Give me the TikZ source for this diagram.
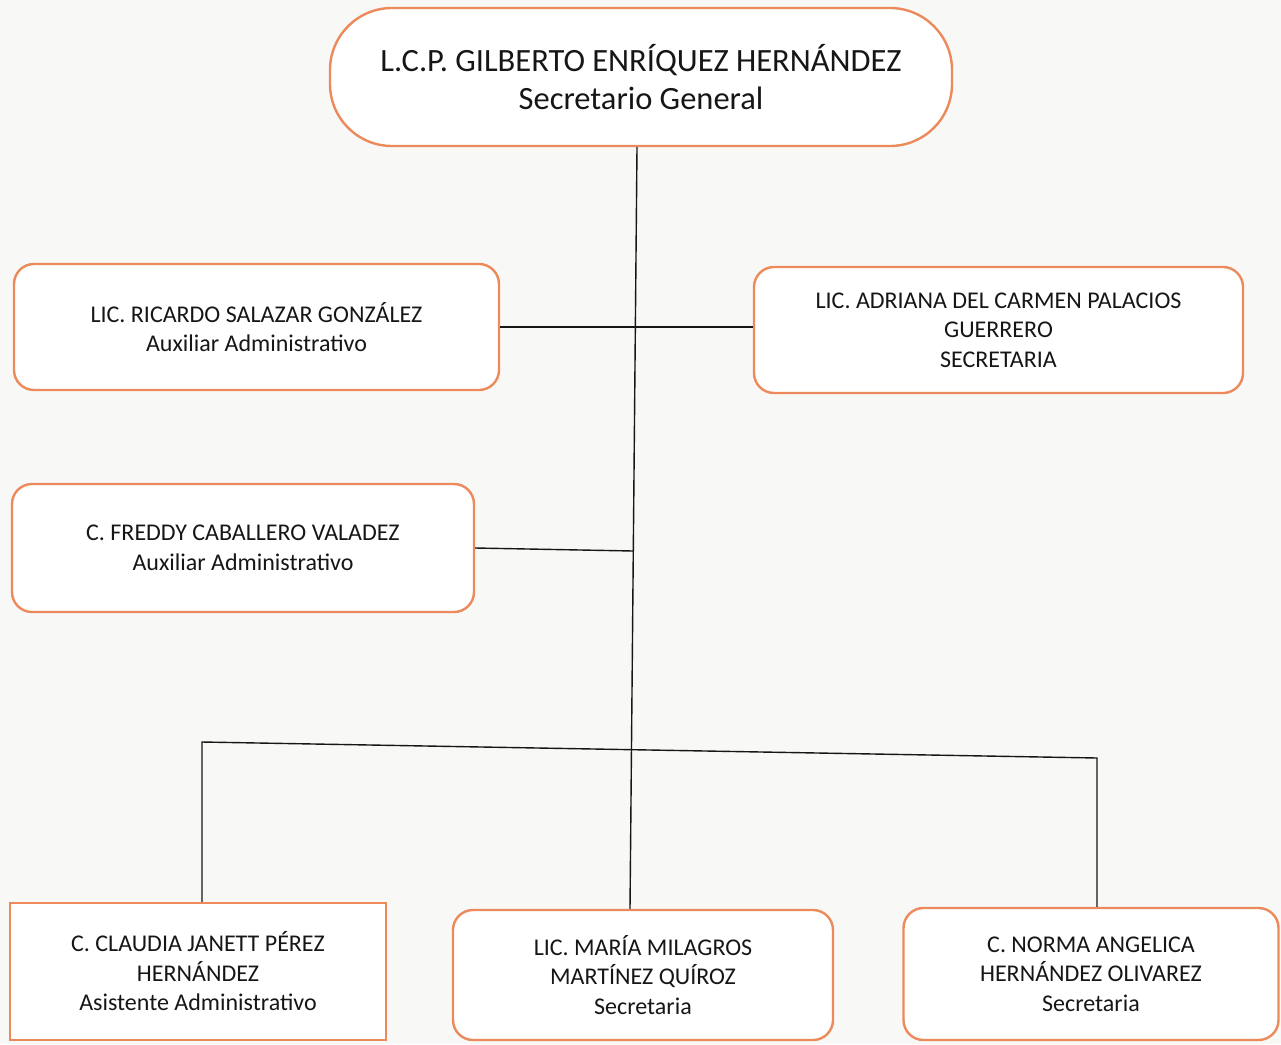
\documentclass[tikz,border=0pt]{standalone}
\usepackage{fontspec}
\setmainfont{Carlito}
\definecolor{boxorange}{RGB}{236,138,92}
\definecolor{inkc}{RGB}{22,22,22}
\definecolor{paper}{RGB}{248,248,247}
\begin{document}
\begin{tikzpicture}[x=1pt,y=-1pt,
  card/.style={draw=boxorange,line width=2.4pt,fill=white,rounded corners=20pt,
    align=center,text=inkc,inner sep=0pt,font=\fontsize{24}{29.5}\selectfont},
  link/.style={draw=inkc,line width=1.4pt}]
\fill[paper] (0,0) rectangle (1281,1044);
\useasboundingbox (0,0) rectangle (1281,1044);

\node[card,rounded corners=62pt,minimum width=622pt,minimum height=138pt,
  font=\fontsize{32.5}{38}\selectfont] (top) at (641,77)
  {L.C.P. GILBERTO ENRÍQUEZ HERNÁNDEZ\\Secretario General};

\node[card,minimum width=485pt,minimum height=126pt] (ricardo) at (256.5,327)
  {LIC. RICARDO SALAZAR GONZÁLEZ\\Auxiliar Administrativo};
\node[card,minimum width=489pt,minimum height=126pt] (adriana) at (998.5,330)
  {LIC. ADRIANA DEL CARMEN PALACIOS\\GUERRERO\\SECRETARIA};
\node[card,minimum width=462pt,minimum height=128pt] (freddy) at (243,548)
  {C. FREDDY CABALLERO VALADEZ\\Auxiliar Administrativo};

\node[card,rounded corners=0pt,minimum width=376pt,minimum height=137pt] (claudia) at (198,971.5)
  {C. CLAUDIA JANETT PÉREZ\\HERNÁNDEZ\\Asistente Administrativo};
\node[card,minimum width=380pt,minimum height=130pt] (maria) at (643,975)
  {LIC. MARÍA MILAGROS\\MARTÍNEZ QUÍROZ\\Secretaria};
\node[card,minimum width=375pt,minimum height=132pt] (norma) at (1091,974)
  {C. NORMA ANGELICA\\HERNÁNDEZ OLIVAREZ\\Secretaria};

% connectors
\draw[link] ([xshift=-4pt]top.south) -- ([xshift=-13pt]maria.north);
\draw[link] (ricardo.east) -- (ricardo.east -| adriana.west);
\coordinate (fj) at (633,551);
\draw[link] (freddy.east) -- (fj);
\coordinate (bl) at (202,742);
\coordinate (br) at (1097,758);
\draw[link] (claudia.north -| bl) -- (bl) -- (br) -- (norma.north -| br);
\end{tikzpicture}
\end{document}
